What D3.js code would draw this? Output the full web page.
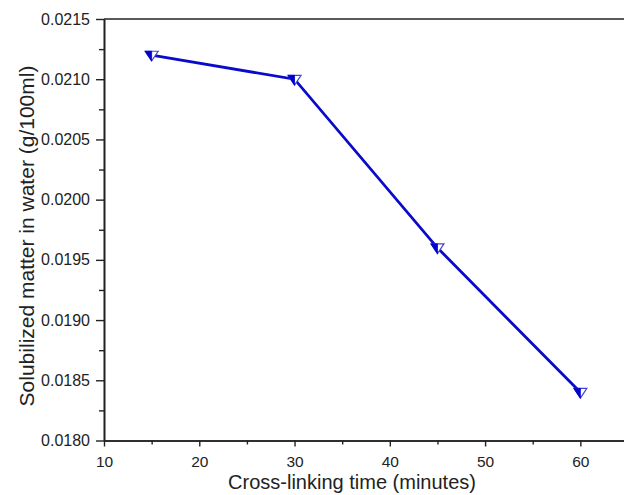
<!DOCTYPE html>
<html><head><meta charset="utf-8">
<script src="https://cdn.jsdelivr.net/npm/d3@7"></script>
<style>body{margin:0;background:#fff}text{font-family:"Liberation Sans",Arial,sans-serif}</style>
</head><body>
<svg id="c" width="624" height="495"></svg>
<script>
const times = [15, 30, 45, 60];
const solubilized = [0.0212, 0.0210, 0.0196, 0.0184];
const xTicks = [10, 20, 30, 40, 50, 60];
const yTicks = [0.0180, 0.0185, 0.0190, 0.0195, 0.0200, 0.0205, 0.0210, 0.0215];

const svg = d3.select("#c");
const L = 104, R = 628, T = 19, B = 440.5;
const x = d3.scaleLinear().domain([10, 65]).range([L, R]);
const y = d3.scaleLinear().domain([0.0180, 0.0215]).range([B, T]);

// frame top
svg.append("line").attr("x1", L).attr("x2", 624).attr("y1", T).attr("y2", T)
  .attr("stroke", "#222").attr("stroke-width", 1.6);

const xAxis = svg.append("g").attr("transform", `translate(0,${B})`)
  .call(d3.axisBottom(x).tickValues(xTicks).tickSize(6).tickSizeOuter(0).tickPadding(9).tickFormat(d3.format("d")));
const xMinor = svg.append("g").attr("transform", `translate(0,${B})`)
  .call(d3.axisBottom(x).tickValues(xTicks.map(d => d + 5)).tickSize(4).tickSizeOuter(0).tickFormat(""));
const yAxis = svg.append("g").attr("transform", `translate(${L},0)`)
  .call(d3.axisLeft(y).tickValues(yTicks).tickSize(8).tickSizeOuter(0).tickPadding(6).tickFormat(d3.format(".4f")));
const yMinor = svg.append("g").attr("transform", `translate(${L},0)`)
  .call(d3.axisLeft(y).tickValues(yTicks.slice(0, -1).map(d => d + 0.00025)).tickSize(5).tickSizeOuter(0).tickFormat(""));
[xAxis, xMinor, yAxis, yMinor].forEach(g => {
  g.selectAll("path").attr("stroke", "#222").attr("stroke-width", 1.6);
  g.selectAll("line").attr("stroke", "#222").attr("stroke-width", 1.4);
  g.selectAll("text").attr("font-size", 16).attr("fill", "#222")
    .attr("font-family", '"Liberation Sans",Arial,sans-serif');
});
xAxis.selectAll("text").attr("font-size", 15.5);

const pts = times.map((t, i) => [x(t), y(solubilized[i])]);
svg.append("path").attr("d", d3.line()(pts)).attr("fill", "none")
  .attr("stroke", "#0a0acc").attr("stroke-width", 2.8);

// half-filled down triangles
const s = 6.5;
const mk = svg.append("g").selectAll("g").data(pts).join("g")
  .attr("transform", d => `translate(${d[0]},${d[1]})`);
mk.append("path").attr("d", `M${-s},${-s*0.6}L${s},${-s*0.6}L0,${s*0.9}Z`)
  .attr("fill", "#fff").attr("stroke", "#4444cc").attr("stroke-width", 1.2);
mk.append("path").attr("d", `M${-s},${-s*0.6}L0,${-s*0.6}L0,${s*0.9}Z`)
  .attr("fill", "#0000cc").attr("stroke", "#0000cc").attr("stroke-width", 0.8);

svg.append("text").attr("x", 352).attr("y", 489).attr("text-anchor", "middle")
  .attr("font-size", 20).attr("fill", "#222").text("Cross-linking time (minutes)");
svg.append("text").attr("transform", `translate(34,236) rotate(-90)`)
  .attr("text-anchor", "middle").attr("font-size", 21).attr("fill", "#222")
  .text("Solubilized matter in water (g/100ml)");
</script>
</body></html>
